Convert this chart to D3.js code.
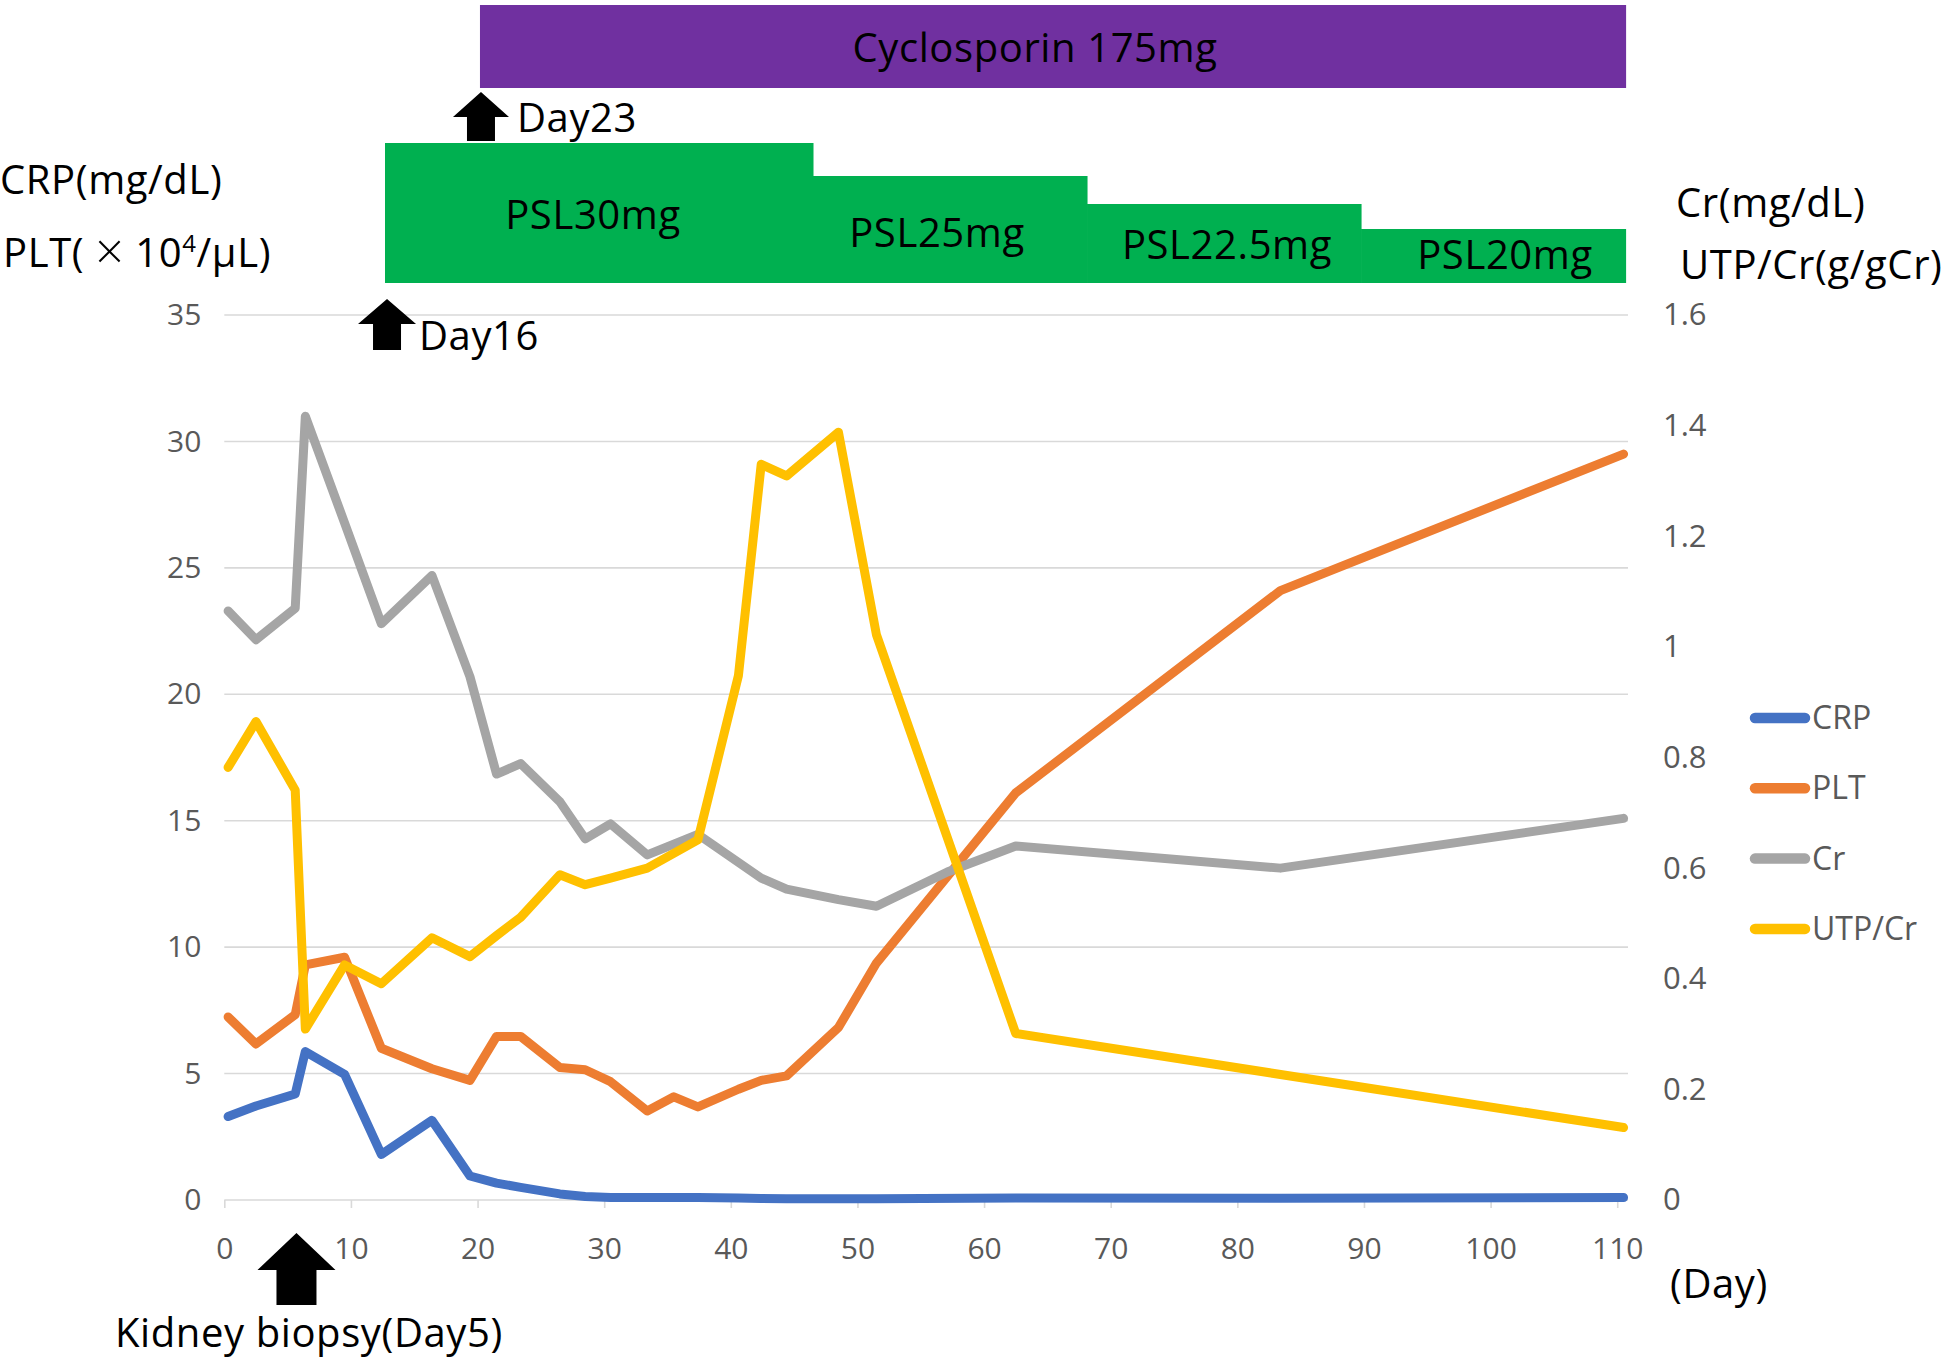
<!DOCTYPE html>
<html><head><meta charset="utf-8">
<script src="https://cdn.jsdelivr.net/npm/d3@7/dist/d3.min.js"></script>
<style>body{margin:0;background:#fff}svg{display:block}text{font-family:"Open Sans",sans-serif}</style>
</head><body><svg id="c" width="1952" height="1364"></svg>
<script>
// ---- data ----
const days  = [0.3, 2.5, 5.6, 6.4, 9.5, 12.4, 16.4, 19.4, 21.5, 23.4, 26.5, 28.5, 30.5, 33.4, 35.5, 37.4, 40.6, 42.4, 44.4, 48.5, 51.5, 57.1, 62.5, 83.4, 110.5];
const crp   = [3.3, 3.72, 4.19, 5.87, 4.97, 1.8, 3.15, 0.95, 0.67, 0.5, 0.24, 0.14, 0.1, 0.1, 0.1, 0.1, 0.08, 0.06, 0.05, 0.05, 0.05, null, 0.08, 0.07, 0.1];
const plt   = [7.24, 6.17, 7.33, 9.3, 9.6, 6.0, 5.19, 4.73, 6.47, 6.47, 5.24, 5.15, 4.68, 3.52, 4.08, 3.68, 4.38, 4.73, 4.91, 6.82, 9.37, null, 16.1, 24.1, 29.5];
const cr    = [1.065, 1.013, 1.07, 1.417, 1.224, 1.042, 1.129, 0.946, 0.77, 0.789, 0.72, 0.653, 0.68, 0.624, null, 0.661, null, 0.582, 0.562, 0.543, 0.531, 0.593, 0.64, 0.6, 0.69];
const utpcr = [0.782, 0.865, 0.741, 0.309, 0.425, 0.391, 0.474, 0.44, 0.478, 0.511, 0.588, 0.57, 0.582, 0.6, null, 0.651, 0.948, 1.33, 1.309, 1.388, 1.022, null, 0.301, null, 0.131];

const seriesNames  = ["CRP", "PLT", "Cr", "UTP/Cr"];
const seriesAxis   = ["left", "left", "right", "right"];
const seriesColors = ["#4472C4", "#ED7D31", "#A5A5A5", "#FFC000"];

const xTicks     = [0, 10, 20, 30, 40, 50, 60, 70, 80, 90, 100, 110];
const leftTicks  = [0, 5, 10, 15, 20, 25, 30, 35];
const rightTicks = [0, 0.2, 0.4, 0.6, 0.8, 1, 1.2, 1.4, 1.6];

// treatment annotations (in days on the x scale)
const pslLabels = ["PSL30mg", "PSL25mg", "PSL22.5mg", "PSL20mg"];
const pslBounds = [12.69, 46.49, 68.13, 89.77, 110.7];
const cyclosporinLabel = "Cyclosporin 175mg";
const cyclosporinSpan  = [20.19, 110.7];
const arrowLabels = ["Day16", "Day23", "Kidney biopsy(Day5)"];
const arrowDays   = [12.85, 20.27, 5.7];

// ---- layout ----
const svg = d3.select("#c");
svg.append("rect").attr("width", 1952).attr("height", 1364).attr("fill", "#fff");

const x  = d3.scaleLinear().domain([0, 110.85]).range([224.3, 1628]);
const yL = d3.scaleLinear().domain([0, 35]).range([1200, 315]);
const yR = d3.scaleLinear().domain([0, 1.6]).range([1200, 315]);

const BIG = 40, LS = 0.6;

// gridlines
svg.append("g").selectAll("line").data(leftTicks).join("line")
  .attr("x1", x(0)).attr("x2", x.range()[1])
  .attr("y1", d => yL(d)).attr("y2", d => yL(d))
  .attr("stroke", "#D9D9D9").attr("stroke-width", 1.6);

// x axis
const gx = svg.append("g").attr("transform", "translate(0,1200)")
  .call(d3.axisBottom(x).tickValues(xTicks).tickSize(8).tickPadding(30).tickFormat(d => String(d)));
gx.select(".domain").remove();
gx.selectAll(".tick line").attr("stroke", "#D9D9D9").attr("stroke-width", 1.6);
gx.selectAll(".tick text").attr("fill", "#595959").attr("font-size", 30).attr("font-family", "Open Sans");

// left axis
const gl = svg.append("g").attr("transform", `translate(${x(0)},0)`)
  .call(d3.axisLeft(yL).tickValues(leftTicks).tickSize(0).tickPadding(23).tickFormat(d => String(d)));
gl.select(".domain").remove();
gl.selectAll(".tick text").attr("fill", "#595959").attr("font-size", 30).attr("font-family", "Open Sans");

// right axis
const gr = svg.append("g").attr("transform", `translate(${x.range()[1]},0)`)
  .call(d3.axisRight(yR).tickValues(rightTicks).tickSize(0).tickPadding(35).tickFormat(d => String(d)));
gr.select(".domain").remove();
gr.selectAll(".tick text").attr("fill", "#595959").attr("font-size", 31).attr("font-family", "Open Sans");

// series lines
const allSeries = [crp, plt, cr, utpcr];
allSeries.forEach((vals, i) => {
  const yScale = seriesAxis[i] === "left" ? yL : yR;
  const pts = days.map((d, j) => [d, vals[j]]).filter(p => p[1] !== null);
  const line = d3.line().x(p => x(p[0])).y(p => yScale(p[1]));
  svg.append("path").datum(pts).attr("d", line)
    .attr("fill", "none").attr("stroke", seriesColors[i]).attr("stroke-width", 9)
    .attr("stroke-linecap", "round").attr("stroke-linejoin", "round");
});

// legend
const lg = svg.append("g");
seriesNames.forEach((n, i) => {
  const cy = 718 + i * 70.3;
  lg.append("line").attr("x1", 1755).attr("x2", 1805).attr("y1", cy).attr("y2", cy)
    .attr("stroke", seriesColors[i]).attr("stroke-width", 10.5).attr("stroke-linecap", "round");
  lg.append("text").attr("x", 1812).attr("y", cy + 11).attr("font-size", 32)
    .attr("fill", "#595959").text(n);
});

// treatment bars
const treat = svg.append("g");
treat.append("rect").attr("x", x(cyclosporinSpan[0])).attr("y", 5)
  .attr("width", x(cyclosporinSpan[1]) - x(cyclosporinSpan[0])).attr("height", 83)
  .attr("fill", "#7030A0");
treat.append("text").attr("x", 1035).attr("y", 62).attr("text-anchor", "middle")
  .attr("font-size", BIG).attr("letter-spacing", LS).attr("fill", "#000").text(cyclosporinLabel);

const pslTops = [143, 176, 204, 229];
const pslTextX = [593, 937, 1227, 1505];
const pslTextY = [229, 247, 259, 269];
pslLabels.forEach((lab, i) => {
  treat.append("rect").attr("x", x(pslBounds[i])).attr("y", pslTops[i])
    .attr("width", x(pslBounds[i + 1]) - x(pslBounds[i]) + (i < 3 ? 0.5 : 0)).attr("height", 283 - pslTops[i])
    .attr("fill", "#00B050");
  treat.append("text").attr("x", pslTextX[i]).attr("y", pslTextY[i]).attr("text-anchor", "middle")
    .attr("font-size", BIG).attr("letter-spacing", LS).attr("fill", "#000").text(lab);
});

// arrows
function blockArrow(cx, tip, base, bottom, headHalf, shaftHalf) {
  return `M${cx},${tip} L${cx + headHalf},${base} L${cx + shaftHalf},${base} L${cx + shaftHalf},${bottom} L${cx - shaftHalf},${bottom} L${cx - shaftHalf},${base} L${cx - headHalf},${base} Z`;
}
const arrowGeom = [
  {tip: 299, base: 324, bottom: 350, hh: 29, sh: 14, tx: 419, ty: 350},
  {tip: 92, base: 117, bottom: 141, hh: 28, sh: 14, tx: 517, ty: 132},
  {tip: 1233, base: 1270, bottom: 1305, hh: 39, sh: 20, tx: 115, ty: 1347}
];
arrowLabels.forEach((lab, i) => {
  const g = arrowGeom[i];
  svg.append("path").attr("d", blockArrow(x(arrowDays[i]), g.tip, g.base, g.bottom, g.hh, g.sh)).attr("fill", "#000");
  svg.append("text").attr("x", g.tx).attr("y", g.ty)
    .attr("font-size", BIG).attr("letter-spacing", LS).attr("fill", "#000").text(lab);
});

// axis titles
svg.append("text").attr("x", 0).attr("y", 194).attr("font-size", BIG).attr("letter-spacing", LS).attr("fill", "#000").text("CRP(mg/dL)");
const pltT = svg.append("text").attr("x", 3).attr("y", 267).attr("font-size", BIG).attr("letter-spacing", LS).attr("fill", "#000")
  .attr("xml:space", "preserve").style("white-space", "pre");
pltT.append("tspan").text("PLT( ");
pltT.append("tspan").attr("font-size", 50).attr("font-weight", 300).attr("dy", 2).text("\u00D7");
pltT.append("tspan").attr("dy", -2).text(" 10");
pltT.append("tspan").attr("font-size", 24).attr("dy", -15).text("4");
pltT.append("tspan").attr("dy", 15).text("/\u03BCL)");
svg.append("text").attr("x", 1676).attr("y", 217).attr("font-size", BIG).attr("letter-spacing", LS).attr("fill", "#000").text("Cr(mg/dL)");
svg.append("text").attr("x", 1680).attr("y", 279).attr("font-size", BIG).attr("letter-spacing", LS).attr("fill", "#000").text("UTP/Cr(g/gCr)");
svg.append("text").attr("x", 1670).attr("y", 1298).attr("font-size", BIG).attr("letter-spacing", LS).attr("fill", "#000").text("(Day)");
</script>
</body></html>
